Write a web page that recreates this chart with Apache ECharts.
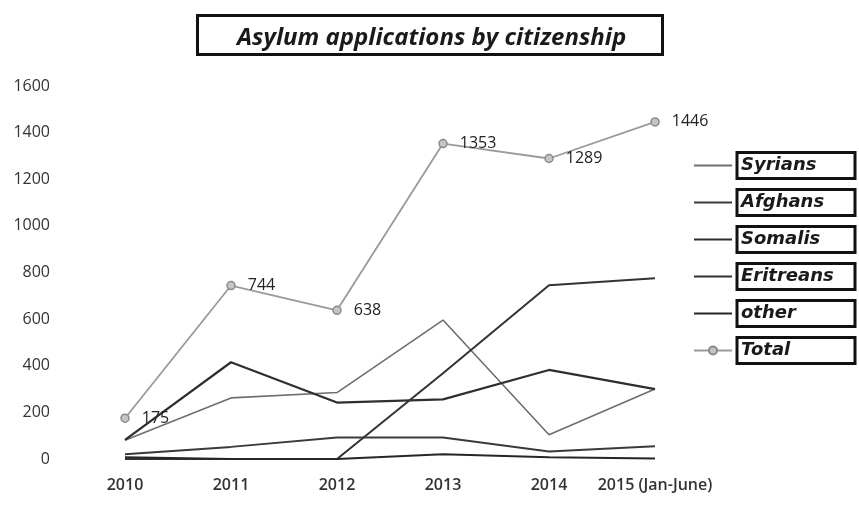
<!DOCTYPE html>
<html>
<head>
<meta charset="utf-8">
<script src="https://cdn.jsdelivr.net/npm/echarts@6/dist/echarts.min.js"></script>
<style>
  html, body { margin: 0; padding: 0; background: #fff; }
  #chart { width: 859px; height: 505px; }
</style>
</head>
<body>
<div id="chart"></div>
<script>
const years = ['2010', '2011', '2012', '2013', '2014', '2015 (Jan-June)']
const yTicks = [0, 200, 400, 600, 800, 1000, 1200, 1400, 1600]

const syrians = [80, 262, 285, 596, 104, 300]
const afghans = [20, 52, 92, 92, 32, 55]
const somalis = [82, 415, 242, 256, 382, 300]
const eritreans = [0, 0, 0, 368, 745, 775]
const other = [8, 0, 0, 20, 8, 2]
const total = [175, 744, 638, 1353, 1289, 1446]

const chart = echarts.init(document.getElementById('chart'))

const font = '"Open Sans", sans-serif'

const lineSeries = (name, data, color, width) => ({
  name,
  type: 'line',
  data,
  symbol: 'none',
  lineStyle: { color, width },
  itemStyle: { color },
  z: 2
})

// legend entries without the marker dot
const noDot = { color: 'rgba(0,0,0,0)', borderColor: 'rgba(0,0,0,0)', borderWidth: 0 }

const option = {
  animation: false,
  backgroundColor: '#fff',
  title: {
    text: 'Asylum applications by citizenship',
    left: 197,
    top: 15,
    padding: [10, 24, 4, 40],
    borderColor: '#111',
    borderWidth: 3,
    textStyle: {
      width: 402,
      fontFamily: font,
      fontSize: 24,
      lineHeight: 26,
      fontWeight: 'bold',
      fontStyle: 'italic',
      color: '#1a1a1a'
    }
  },
  grid: {
    left: 125,
    right: 204,
    top: 86,
    bottom: 46
  },
  legend: {
    orient: 'vertical',
    left: 688,
    top: 146,
    itemWidth: 38,
    itemHeight: 10,
    itemGap: 8,
    data: [
      { name: 'Syrians', itemStyle: noDot },
      { name: 'Afghans', itemStyle: noDot },
      { name: 'Somalis', itemStyle: noDot },
      { name: 'Eritreans', itemStyle: noDot },
      { name: 'other', itemStyle: noDot },
      { name: 'Total' }
    ],
    formatter: name => '{box|' + name + '}',
    textStyle: {
      rich: {
        box: {
          width: 112,
          height: 24,
          padding: [1, 2, 1, 4],
          borderColor: '#111',
          borderWidth: 3,
          fontFamily: '"DejaVu Sans", sans-serif',
          fontSize: 18,
          fontWeight: 'bold',
          fontStyle: 'italic',
          color: '#1a1a1a'
        }
      }
    }
  },
  xAxis: {
    type: 'category',
    data: years,
    boundaryGap: false,
    axisLine: { show: false },
    axisTick: { show: false },
    splitLine: { show: false },
    axisLabel: {
      interval: 0,
      margin: 18,
      fontFamily: font,
      fontSize: 16,
      fontWeight: 600,
      color: '#333'
    }
  },
  yAxis: {
    type: 'value',
    min: 0,
    max: yTicks[yTicks.length - 1],
    interval: 200,
    axisLine: { show: false },
    axisTick: { show: false },
    splitLine: { show: false },
    axisLabel: {
      margin: 75,
      formatter: v => String(v),
      fontFamily: font,
      fontSize: 16,
      color: '#333'
    }
  },
  series: [
    lineSeries('Syrians', syrians, '#6e6e6e', 1.6),
    lineSeries('Afghans', afghans, '#3a3a3a', 2),
    lineSeries('Somalis', somalis, '#2e2e2e', 2.2),
    lineSeries('Eritreans', eritreans, '#333', 2),
    lineSeries('other', other, '#262626', 2),
    {
      name: 'Total',
      type: 'line',
      data: total,
      symbol: 'circle',
      symbolSize: 8,
      lineStyle: { color: '#9a9a9a', width: 1.8 },
      itemStyle: { color: '#c4c4c4', borderColor: '#8a8a8a', borderWidth: 1.5 },
      label: {
        show: true,
        position: 'right',
        distance: 12,
        fontFamily: font,
        fontSize: 16,
        color: '#222'
      },
      z: 3
    }
  ]
}

chart.setOption(option)
</script>
</body>
</html>
